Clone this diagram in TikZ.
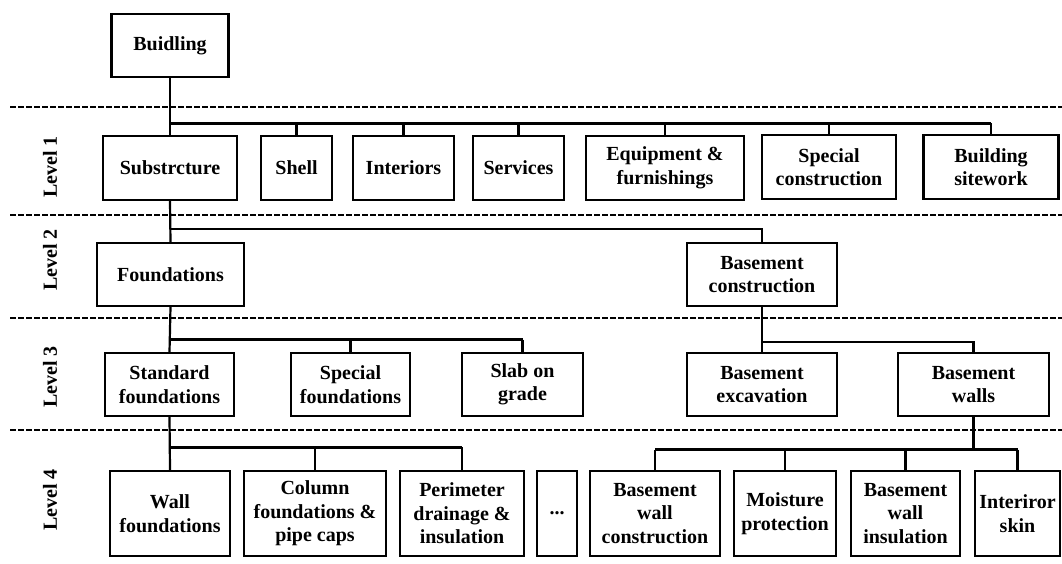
\documentclass[tikz,border=0pt]{standalone}
\usepackage{fontspec}
\setmainfont{Liberation Serif}
\begin{document}
\begin{tikzpicture}[x=1pt,y=-1pt,
  box/.style={draw, line width=2.2pt, inner sep=0pt, align=center,
    font=\fontsize{20}{23.5}\selectfont\bfseries},
  lvl/.style={rotate=90, inner sep=0pt, font=\fontsize{20}{23.5}\selectfont\bfseries},
  link/.style={line width=2.2pt},
  bus/.style={line width=3pt},
  thinbus/.style={line width=2.2pt},
  sep/.style={line width=2.2pt, dash pattern=on 5.5pt off 2.5pt}]
\useasboundingbox[fill=white] (0,0) rectangle (1062,563);

% level separators
\draw[sep] (10,107) -- (1062,107);
\draw[sep] (10,215) -- (1062,215);
\draw[sep] (10,318) -- (1062,318);
\draw[sep] (10,430) -- (1062,430);

% level captions
\node[lvl] (lv1) at (50,167) {Level 1};
\node[lvl] (lv2) at (50,260) {Level 2};
\node[lvl] (lv3) at (50,377) {Level 3};
\node[lvl] (lv4) at (50,500) {Level 4};

% root
\node[box, minimum width=117pt, minimum height=63pt] (bld) at (170,45.5) {Buidling};

% level 1
\begin{scope}[every node/.append style={minimum height=64pt}]
\node[box, minimum width=134pt] (sub)   at (170,168)   {Substrcture};
\node[box, minimum width=71pt]  (shell) at (296.5,168) {Shell};
\node[box, minimum width=101pt] (intr)  at (403.5,168) {Interiors};
\node[box, minimum width=91pt]  (serv)  at (518.5,168) {Services};
\node[box, minimum width=158pt] (equip) at (665,168)   {Equipment \&\\furnishings};
\node[box, minimum width=134pt] (spc)   at (829,167)   {Special\\construction};
\node[box, minimum width=135pt] (site)  at (991,167)   {Building\\sitework};
\end{scope}

% level 2
\begin{scope}[every node/.append style={minimum height=63pt}]
\node[box, minimum width=147pt] (fnd)  at (170.5,274.5) {Foundations};
\node[box, minimum width=150pt] (bcon) at (762,274.5)   {Basement\\construction};
\end{scope}

% level 3
\begin{scope}[every node/.append style={minimum height=63pt}]
\node[box, minimum width=129pt] (std)  at (169.5,384.5) {Standard\\foundations};
\node[box, minimum width=119pt] (spf)  at (350.5,384.5) {Special\\foundations};
\node[box, minimum width=121pt] (slab) at (522.5,384.5) {Slab on\\grade};
\node[box, minimum width=150pt] (bexc) at (762,384.5)   {Basement\\excavation};
\node[box, minimum width=151pt] (bwal) at (973.5,384.5) {Basement\\walls};
\end{scope}

% level 4
\begin{scope}[every node/.append style={minimum height=85pt}]
\node[box, minimum width=120pt] (wallf) at (170,513.5)    {Wall\\foundations};
\node[box, minimum width=142pt] (colf)  at (315,513.5)    {Column\\foundations \&\\pipe caps};
\node[box, minimum width=124pt] (perim) at (462,513.5)    {Perimeter\\drainage \&\\insulation};
\node[box, minimum width=40pt]  (dots)  at (557,513.5)    {...};
\node[box, minimum width=130pt] (bwc)   at (655,513.5)    {Basement\\wall\\construction};
\node[box, minimum width=102pt] (moist) at (785,513.5)    {Moisture\\protection};
\node[box, minimum width=109pt] (bwi)   at (905.5,513.5)  {Basement\\wall\\insulation};
\node[box, minimum width=85pt]  (iskin) at (1017.5,513.5) {Interiror\\skin};
\end{scope}

% bus heights
\coordinate (b1) at (0,123);
\coordinate (b2) at (0,229);
\coordinate (b3) at (0,339.5);
\coordinate (b3r) at (0,342);
\coordinate (b4) at (0,447);
\coordinate (b4r) at (0,449.5);

% Building -> level 1
\draw[link] (bld.south) -- (sub.north);
\draw[bus] (sub.north |- b1) -- (site.north |- b1);
\foreach \n in {shell,intr,serv,equip,spc,site}
  \draw[link] (\n.north |- b1) -- (\n.north);

% Substructure -> level 2
\draw[link] (sub.south) -- (fnd.north);
\draw[thinbus] (sub.south |- b2) -| (bcon.north);

% Foundations -> level 3
\draw[link] (fnd.south) -- (std.north);
\draw[bus] (std.north |- b3) -- (slab.north |- b3);
\foreach \n in {spf,slab}
  \draw[link] (\n.north |- b3) -- (\n.north);

% Basement construction -> level 3
\draw[link] (bcon.south) -- (bexc.north);
\draw[thinbus] (bexc.north |- b3r) -| (bwal.north);

% Standard foundations -> level 4
\draw[link] (std.south) -- (wallf.north);
\draw[bus] (wallf.north |- b4) -- (perim.north |- b4);
\foreach \n in {colf,perim}
  \draw[link] (\n.north |- b4) -- (\n.north);

% Basement walls -> level 4
\draw[link] (bwal.south) -- (bwal.south |- b4r);
\draw[thinbus] (bwc.north |- b4r) -- (iskin.north |- b4r);
\foreach \n in {bwc,moist,bwi,iskin}
  \draw[link] (\n.north |- b4r) -- (\n.north);
\end{tikzpicture}
\end{document}
